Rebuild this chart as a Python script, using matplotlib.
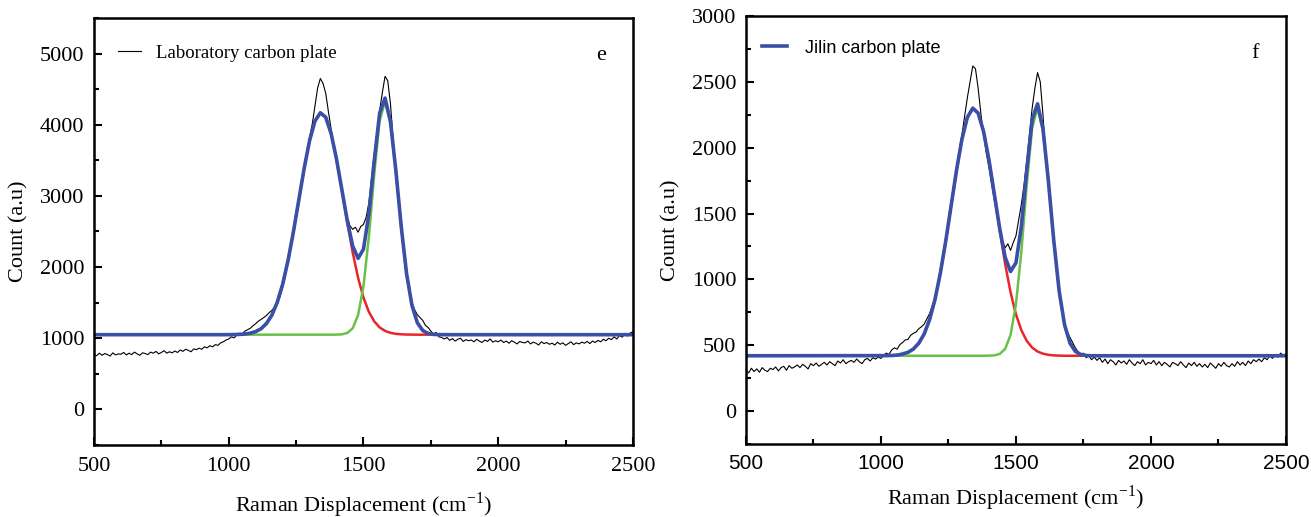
import numpy as np
import matplotlib
matplotlib.use("Agg")
from matplotlib import pyplot as plt
from matplotlib.ticker import MultipleLocator

plt.rcParams['font.family'] = ['Liberation Serif', 'DejaVu Serif']
plt.rcParams['mathtext.fontset'] = 'stix'

# raman shift grid of the raw spectra (cm-1)
raw_x = np.arange(500, 2501, 10)

# panel e, laboratory plate, raw counts
lab_raw = [
    770, 755, 790, 760, 785, 770, 750, 795, 765, 780,
    775, 800, 765, 790, 770, 805, 780, 760, 795, 785,
    770, 805, 790, 815, 780, 800, 825, 790, 810, 795,
    820, 800, 835, 815, 845, 830, 810, 850, 840, 860,
    845, 880, 865, 895, 880, 910, 900, 935, 950, 975,
    990, 1020, 1005, 1045, 1070, 1060, 1100, 1120, 1140, 1175,
    1205, 1240, 1265, 1290, 1320, 1360, 1390, 1440, 1500, 1580,
    1720, 1880, 2080, 2290, 2500, 2720, 2950, 3170, 3400, 3600,
    3820, 4010, 4260, 4520, 4650, 4580, 4440, 4180, 3940, 3700,
    3500, 3300, 3080, 2880, 2700, 2580, 2530, 2560, 2490, 2570,
    2600, 2700, 2900, 3250, 3600, 3900, 4200, 4450, 4680, 4620,
    4300, 3800, 3380, 2980, 2600, 2250, 1950, 1700, 1500, 1400,
    1330, 1290, 1250, 1180, 1150, 1100, 1060, 1080, 1020, 1010,
    990, 1010, 970, 995, 960, 985, 1000, 955, 980, 965,
    975, 950, 985, 960, 940, 975, 955, 990, 945, 965,
    950, 975, 940, 960, 930, 965, 945, 920, 955, 940,
    935, 960, 920, 945, 930, 905, 950, 925, 940, 915,
    930, 905, 945, 915, 935, 900, 925, 950, 910, 935,
    920, 945, 930, 955, 925, 960, 940, 970, 950, 985,
    965, 1000, 980, 1020, 990, 1040, 1015, 1060, 1030, 1075,
    1090]

# panel f, Jilin plate, raw counts
jilin_raw = [
    310, 290, 325, 300, 320, 295, 330, 310, 300, 325,
    315, 335, 305, 330, 340, 310, 345, 325, 335, 350,
    330, 355, 340, 320, 360, 345, 365, 340, 355, 370,
    350, 375, 360, 345, 380, 365, 390, 360, 375, 385,
    370, 395, 375, 360, 390, 400, 380, 405, 395, 410,
    400, 425, 440, 430, 465, 480, 470, 505, 520, 540,
    545, 575, 590, 600, 625, 640, 660, 700, 740, 800,
    860, 960, 1080, 1190, 1300, 1430, 1560, 1700, 1850, 1980,
    2100, 2240, 2380, 2500, 2620, 2600, 2450, 2260, 2100, 1960,
    1850, 1720, 1600, 1480, 1380, 1290, 1240, 1270, 1220, 1280,
    1330, 1450, 1570, 1720, 1900, 2100, 2300, 2450, 2570, 2500,
    2250, 1950, 1750, 1520, 1300, 1060, 900, 780, 660, 600,
    560, 520, 480, 450, 425, 440, 405, 420, 390, 410,
    385, 405, 370, 395, 360, 390, 375, 350, 385, 365,
    380, 355, 390, 365, 345, 375, 360, 390, 350, 370,
    360, 385, 350, 375, 345, 370, 355, 335, 370, 360,
    345, 375, 350, 330, 365, 345, 370, 340, 360, 335,
    355, 330, 365, 345, 325, 360, 340, 370, 345, 335,
    360, 340, 375, 350, 370, 345, 380, 360, 390, 375,
    395, 375, 405, 390, 420, 400, 430, 410, 440, 425,
    435]

# fitted curves: 500, 1000..1800 step 20, 2500
fit_x = [500] + list(range(1000, 1801, 20)) + [2500]

lab_d = [1050,
         1050, 1052, 1054, 1059, 1071, 1093, 1134, 1207, 1324, 1504,
         1757, 2091, 2495, 2942, 3389, 3778, 4052, 4168, 4105, 3875,
         3515, 3079, 2626, 2205, 1849, 1571, 1371, 1237, 1152, 1103,
         1076, 1062, 1055, 1052, 1051, 1050, 1050, 1050, 1050, 1050,
         1050,
         1050]
lab_g = [1050,
         1050, 1050, 1050, 1050, 1050, 1050, 1050, 1050, 1050, 1050,
         1050, 1050, 1050, 1050, 1050, 1050, 1050, 1050, 1050, 1050,
         1051, 1055, 1074, 1140, 1324, 1731, 2424, 3305, 4062, 4322,
         4023, 3351, 2568, 1903, 1459, 1217, 1108, 1067, 1054, 1051,
         1050,
         1050]
lab_fit = [1050,
           1050, 1052, 1054, 1059, 1071, 1093, 1134, 1207, 1324, 1504,
           1757, 2091, 2495, 2942, 3389, 3778, 4052, 4168, 4105, 3875,
           3516, 3084, 2650, 2295, 2123, 2252, 2745, 3492, 4164, 4375,
           4049, 3363, 2573, 1905, 1460, 1217, 1108, 1067, 1054, 1051,
           1050,
           1050]

jilin_d = [420,
           421, 421, 422, 425, 433, 446, 471, 515, 585, 694,
           846, 1048, 1291, 1561, 1830, 2065, 2230, 2300, 2262, 2123,
           1906, 1643, 1370, 1116, 902, 734, 614, 533, 482, 452,
           436, 427, 423, 421, 420, 420, 420, 420, 420, 420,
           420,
           420]
jilin_g = [420,
           420, 420, 420, 420, 420, 420, 420, 420, 420, 420,
           420, 420, 420, 420, 420, 420, 420, 420, 420, 420,
           421, 423, 434, 472, 578, 812, 1210, 1717, 2152, 2301,
           2129, 1743, 1293, 910, 655, 516, 453, 430, 422, 420,
           420,
           420]
jilin_fit = [420,
             421, 421, 422, 425, 433, 446, 471, 515, 585, 694,
             846, 1048, 1291, 1561, 1830, 2065, 2230, 2300, 2262, 2123,
             1907, 1646, 1384, 1168, 1060, 1126, 1404, 1830, 2214, 2333,
             2145, 1750, 1296, 911, 655, 516, 453, 430, 422, 420,
             420,
             420]

blue = '#3a4fa8'
red = '#e8262a'
green = '#68c247'
sans = ['Liberation Sans', 'DejaVu Sans']

fig = plt.figure(figsize=(13.11, 5.17), dpi=100)
ax1 = fig.add_axes([0.0717, 0.1393, 0.4111, 0.8259])
ax2 = fig.add_axes([0.5690, 0.1412, 0.4119, 0.8279])


def style(ax, ymin, ymax, ymaj, ymin_step):
    ax.set_xlim(500, 2500)
    ax.set_ylim(ymin, ymax)
    ax.xaxis.set_major_locator(MultipleLocator(500))
    ax.xaxis.set_minor_locator(MultipleLocator(250))
    ax.yaxis.set_major_locator(MultipleLocator(ymaj))
    ax.yaxis.set_minor_locator(MultipleLocator(ymin_step))
    ax.tick_params(which='both', direction='in', top=False, right=False, width=1.5)
    ax.tick_params(which='major', length=6, labelsize=16)
    ax.tick_params(which='minor', length=3.5)
    ax.tick_params(axis='x', pad=9)
    ax.tick_params(axis='y', pad=7)
    for s in ax.spines.values():
        s.set_linewidth(1.8)
    ax.set_ylabel('Count (a.u)', fontsize=16, labelpad=8)


# panel e
ax1.plot(raw_x, lab_raw, color='black', lw=0.8, label='Laboratory carbon plate')
ax1.plot(fit_x, lab_d, color=red, lw=1.8)
ax1.plot(fit_x, lab_g, color=green, lw=1.8)
ax1.plot(fit_x, lab_fit, color=blue, lw=2.6)
style(ax1, -500, 5500, 1000, 500)
ax1.set_xlabel(r'Raman Displacement (cm$^{\mathregular{-1}}$)', fontsize=16, labelpad=10)
ax1.legend(loc='center left', bbox_to_anchor=(0.045, 0.918), frameon=False,
           fontsize=13.5, handlelength=1.2, handletextpad=0.8, borderpad=0, borderaxespad=0)
ax1.text(0.94, 0.913, 'e', transform=ax1.transAxes, fontsize=16, ha='center', va='center')

# panel f
ax2.plot(raw_x, jilin_raw, color='black', lw=0.8)
ax2.plot(fit_x, jilin_d, color=red, lw=1.8)
ax2.plot(fit_x, jilin_g, color=green, lw=1.8)
ax2.plot(fit_x, jilin_fit, color=blue, lw=2.6, label='Jilin carbon plate')
style(ax2, -250, 3000, 500, 250)
ax2.set_xlabel(r'Raman Displacement (cm$^{\mathregular{-1}}$)', fontsize=16, labelpad=8)
for lbl in ax2.get_xticklabels():
    lbl.set_family(sans)
    lbl.set_fontsize(15)
ax2.tick_params(axis='x', pad=7)
ax2.legend(loc='center left', bbox_to_anchor=(0.03, 0.925), frameon=False,
           prop={'family': sans, 'size': 13}, handlelength=1.4,
           handletextpad=1.0, borderpad=0, borderaxespad=0)
ax2.text(0.943, 0.913, 'f', transform=ax2.transAxes, fontsize=16, ha='center', va='center')

fig.savefig('out.png', dpi=100)
